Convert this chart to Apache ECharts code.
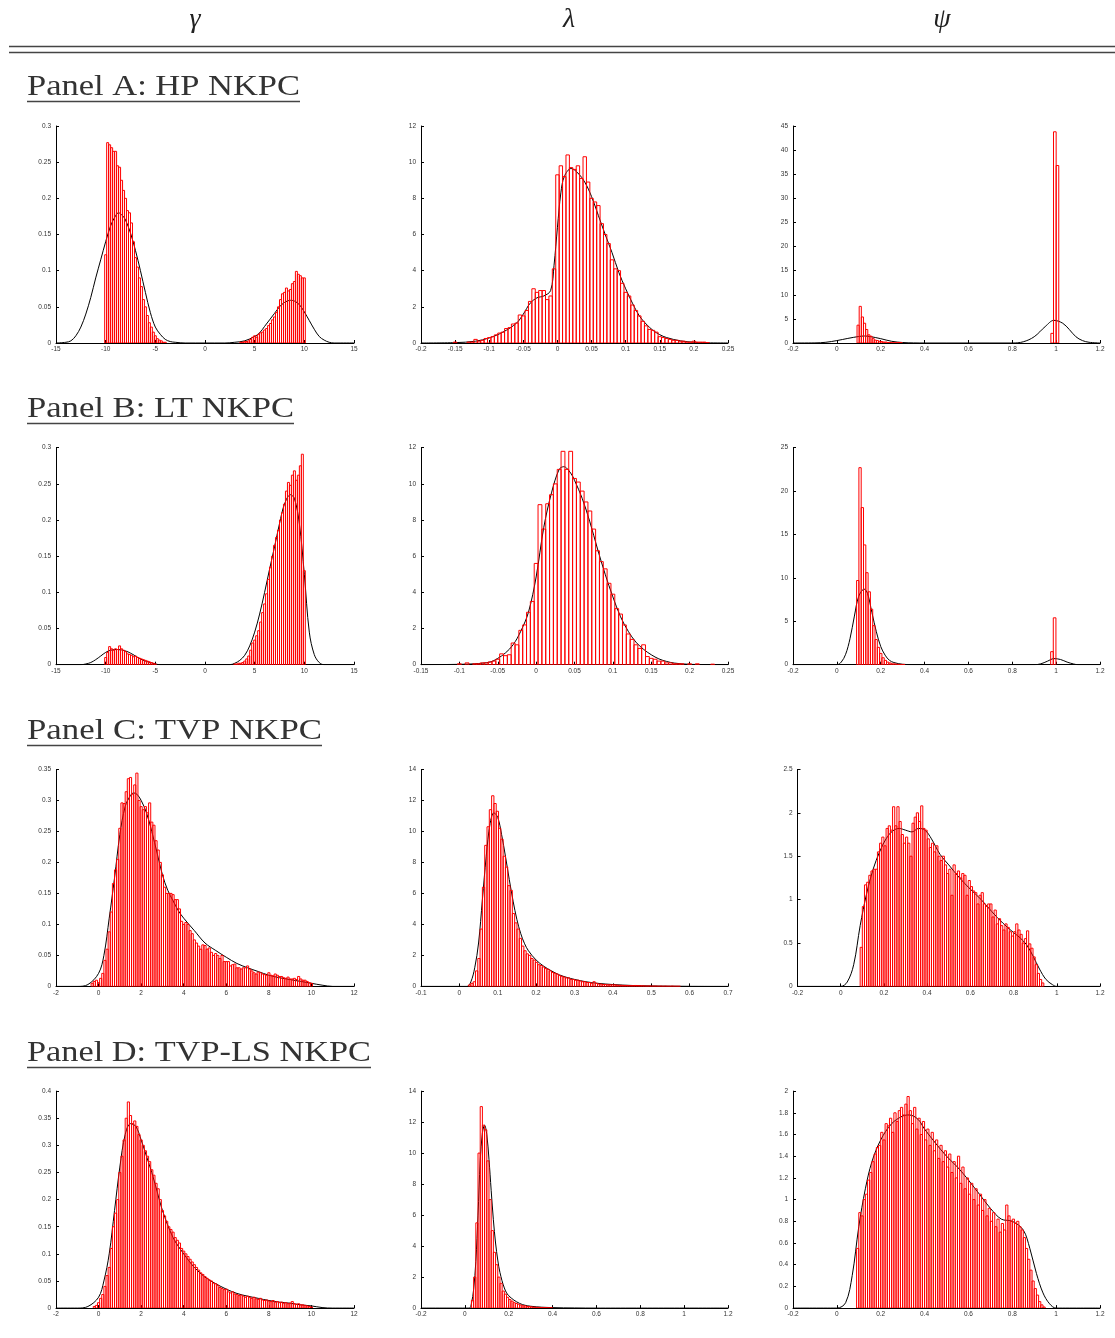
<!DOCTYPE html>
<html>
<head>
<meta charset="utf-8">
<script src="https://cdn.jsdelivr.net/npm/echarts@6/dist/echarts.min.js"></script>
<style>
html, body { margin: 0; padding: 0; background: #fff; }
#chart { width: 1115px; height: 1338px; }
</style>
</head>
<body>
<div id="chart"></div>
<script>
// column heads and panel names
const colHeads = ['γ', 'λ', 'ψ'];
const panelTitles = ['Panel A: HP NKPC', 'Panel B: LT NKPC', 'Panel C: TVP NKPC', 'Panel D: TVP-LS NKPC'];

// ---- histogram heights (density), each array = consecutive bins ----
// Panel A
const gammaA_1 = [0.122,0.277,0.274,0.270,0.265,0.265,0.245,0.243,0.225,0.211,0.200,0.183,0.180,0.166,0.140,0.118,0.105,0.090,0.078,0.060,0.050,0.038,0.028,0.022,0.015,0.010,0.006,0.004,0.003,0.001,0.001];
const gammaA_2 = [0.001,0.001,0.002,0.002,0.003,0.005,0.008,0.010,0.008,0.012,0.014,0.015,0.018,0.020,0.024,0.027,0.032,0.036,0.042,0.050,0.060,0.068,0.070,0.076,0.072,0.074,0.082,0.085,0.099,0.095,0.093,0.090,0.090];
const lambdaA = [0.05,0,0,0,0.05,0.05,0.2,0.1,0.15,0.25,
  0.3,0.35,0.45,0.55,0.6,0.8,0.85,1.05,1.1,1.55,
  1.5,1.8,2.3,3.0,2.8,2.9,2.9,2.4,2.6,4.1,
  9.3,9.8,9.2,10.4,9.7,9.6,9.8,9.1,10.3,8.9,
  8.0,7.8,7.6,6.6,6.0,5.5,4.6,4.1,4.0,3.3,
  2.8,2.6,2.1,1.8,1.5,1.2,0.95,0.75,0.7,0.6,
  0.35,0.3,0.25,0.2,0.15,0.15,0.1,0.1,0.05,0.05,
  0.1,0.05,0.05,0.05,0.02];
const psiA_1 = [3.7,7.6,5.4,4.1,2.8,1.7,1.4,0.9,0.6,0.5,0.35,0.3,0.2,0.2,0.1,0.1,0.05,0.05,0.05,0.1,0.05];
const psiA_2 = [2.0,43.8,36.8];

// Panel B
const gammaB_1 = [0.010,0.017,0.025,0.022,0.020,0.022,0.021,0.026,0.022,0.020,0.018,0.015,0.014,0.013,0.011,0.012,0.010,0.009,0.008,0.007,0.006,0.005,0.004,0.003,0.002,0.001];
const gammaB_2 = [0.001,0.001,0.002,0.002,0.003,0.005,0.008,0.012,0.020,0.030,
  0.034,0.040,0.047,0.059,0.072,0.084,0.098,0.118,0.135,0.150,
  0.165,0.176,0.186,0.200,0.210,0.222,0.240,0.252,0.248,0.262,
  0.268,0.255,0.262,0.275,0.291,0.130];
const lambdaB = [0.05,0,0.1,0,0.05,0.05,0.1,0.1,0.15,0.2,
  0.3,0.6,0.5,0.55,1.2,1.1,1.9,2.2,2.9,3.5,
  5.6,8.85,7.5,8.9,9.4,10.0,10.8,11.8,10.8,11.8,
  10.3,10.1,9.6,9.0,8.5,7.5,6.3,5.7,5.3,4.5,
  3.9,3.1,2.8,2.2,1.7,1.4,1.1,0.9,1.1,0.45,
  0.35,0.3,0.2,0.2,0.1,0.1,0.05,0.05,0.05,0,
  0.05,0,0.05,0,0,0,0.03];
const psiB_1 = [9.7,22.7,18.1,13.8,10.6,8.4,6.4,4.5,2.9,2.0,1.3,0.8,0.5,0.3,0.2,0.1,0.1,0.05,0.03,0.03,0.03];
const psiB_2 = [1.5,5.4];

// Panel C
const gammaC = [0.005,0.008,0.010,0.006,0.013,0.021,0.042,0.060,0.088,0.120,
  0.166,0.188,0.205,0.255,0.296,0.295,0.314,0.335,0.337,0.310,
  0.325,0.344,0.300,0.290,0.285,0.290,0.280,0.296,0.265,0.260,
  0.235,0.220,0.200,0.180,0.160,0.150,0.150,0.150,0.148,0.140,
  0.140,0.125,0.105,0.100,0.103,0.100,0.090,0.085,0.075,0.070,
  0.065,0.060,0.067,0.066,0.060,0.062,0.055,0.050,0.053,0.050,
  0.045,0.050,0.040,0.040,0.040,0.033,0.035,0.036,0.030,0.030,
  0.028,0.030,0.030,0.033,0.028,0.025,0.022,0.020,0.023,0.022,
  0.020,0.019,0.018,0.022,0.018,0.017,0.020,0.018,0.016,0.016,
  0.014,0.013,0.015,0.012,0.012,0.013,0.011,0.016,0.012,0.010,
  0.010,0.008,0.006,0.005];
const lambdaC = [0.1,0.2,0.3,1.0,1.8,3.7,6.4,9.1,10.3,11.4,
  12.3,11.8,11.3,10.2,9.5,8.4,7.7,6.5,6.2,4.7,
  4.1,3.7,3.1,2.6,2.3,2.1,2.0,1.8,1.7,1.55,
  1.4,1.35,1.25,1.15,1.1,1.0,0.9,0.85,0.8,0.7,
  0.65,0.6,0.55,0.55,0.45,0.45,0.4,0.4,0.35,0.3,
  0.3,0.25,0.25,0.2,0.3,0.2,0.15,0.15,0.12,0.12,
  0.1,0.1,0.1,0.1,0.08,0.07,0.07,0.06,0.06,0.05,
  0.05,0.05,0.06,0.05,0.04,0.04,0.03,0.02,0.03,0.02,
  0.02,0.02,0.01,0.02,0.01,0.02,0.01,0.01,0.02,0.01,
  0.01,0.01];
const psiC = [0.45,0.92,1.17,1.20,1.28,1.33,1.35,1.35,1.55,1.65,
  1.72,1.62,1.82,1.85,1.80,2.07,1.85,2.07,1.90,1.75,
  1.65,1.72,1.65,1.50,1.88,1.95,2.00,1.90,2.08,1.82,
  1.80,1.70,1.60,1.65,1.55,1.62,1.50,1.45,1.50,1.40,
  1.30,1.35,1.05,1.40,1.30,1.33,1.25,1.30,1.28,1.05,
  1.22,1.15,1.10,1.08,0.95,1.05,1.08,0.95,0.92,0.95,
  0.95,0.80,0.88,0.72,0.78,0.70,0.65,0.72,0.68,0.63,
  0.58,0.63,0.72,0.65,0.60,0.50,0.55,0.64,0.49,0.44,
  0.34,0.25,0.15,0.08,0.04];

// Panel D
const gammaD = [0.003,0.005,0.010,0.018,0.025,0.040,0.060,0.075,0.110,0.150,
  0.175,0.200,0.250,0.280,0.310,0.350,0.380,0.355,0.340,0.345,
  0.335,0.320,0.310,0.300,0.290,0.280,0.270,0.255,0.245,0.230,
  0.220,0.200,0.180,0.170,0.160,0.150,0.145,0.140,0.130,0.125,
  0.120,0.110,0.105,0.100,0.095,0.090,0.085,0.080,0.075,0.070,
  0.065,0.062,0.058,0.055,0.052,0.050,0.046,0.045,0.042,0.038,
  0.036,0.034,0.035,0.030,0.028,0.030,0.026,0.025,0.023,0.024,
  0.022,0.020,0.022,0.020,0.018,0.020,0.017,0.016,0.018,0.015,
  0.014,0.015,0.013,0.012,0.014,0.011,0.012,0.010,0.011,0.009,
  0.010,0.008,0.009,0.012,0.008,0.007,0.008,0.006,0.006,0.005,
  0.004,0.003,0.002];
const lambdaD = [0.5,2.0,5.5,10.0,13.0,11.8,11.5,9.5,7.0,5.0,
  3.6,2.8,2.0,1.6,1.1,0.9,0.7,0.55,0.45,0.35,
  0.3,0.25,0.2,0.15,0.15,0.1,0.1,0.08,0.06,0.05,
  0.05,0.04,0.03,0.03,0.02,0.02,0.02];
const psiD = [0.55,0.88,0.85,1.00,1.05,1.18,1.25,1.35,1.42,1.48,
  1.50,1.62,1.55,1.70,1.68,1.75,1.62,1.80,1.72,1.82,
  1.85,1.78,1.88,1.95,1.82,1.70,1.85,1.65,1.75,1.60,
  1.72,1.55,1.65,1.50,1.62,1.45,1.55,1.38,1.50,1.35,
  1.45,1.30,1.42,1.25,1.35,1.20,1.40,1.15,1.30,1.10,
  1.20,1.05,1.15,1.00,1.10,0.95,1.05,0.90,1.00,0.85,
  0.92,0.80,0.88,0.75,0.82,0.70,0.78,0.72,0.95,0.85,
  0.80,0.82,0.78,0.80,0.75,0.72,0.65,0.55,0.45,0.35,
  0.25,0.18,0.12,0.06,0.03,0.01];

// ---- smoothed density curves [x, density] ----
const gammaA_kde = [[-15,0],[-14,0.001],[-13.5,0.003],[-13,0.01],[-12.5,0.022],[-12,0.04],[-11.5,0.063],[-11,0.09],[-10.5,0.115],[-10,0.14],[-9.5,0.162],[-9,0.176],[-8.7,0.18],[-8.3,0.176],[-8,0.17],[-7.5,0.152],[-7,0.128],[-6.5,0.1],[-6,0.07],[-5.5,0.042],[-5,0.022],[-4.5,0.012],[-4,0.005],[-3.5,0.002],[-3,0.001],[-2,0],[2,0],[3,0.001],[4,0.003],[5,0.009],[5.5,0.014],[6,0.023],[6.5,0.032],[7,0.041],[7.5,0.05],[8,0.056],[8.6,0.059],[9,0.058],[9.5,0.053],[10,0.043],[10.5,0.031],[11,0.019],[11.5,0.009],[12,0.004],[12.5,0.001],[13,0],[15,0]];
const lambdaA_kde = [[-0.2,0],[-0.15,0.02],[-0.12,0.1],[-0.1,0.28],[-0.08,0.6],[-0.06,1.1],[-0.05,1.6],[-0.04,2.2],[-0.03,2.5],[-0.02,2.6],[-0.01,2.9],[-0.005,4.3],[0,6.4],[0.005,8.3],[0.01,9.2],[0.02,9.65],[0.03,9.4],[0.04,8.9],[0.05,8.1],[0.06,7.05],[0.07,6.0],[0.08,5.0],[0.09,3.9],[0.1,3.0],[0.11,2.2],[0.12,1.5],[0.13,1.05],[0.14,0.7],[0.15,0.46],[0.16,0.3],[0.18,0.12],[0.2,0.04],[0.22,0.01],[0.25,0]];
const psiA_kde = [[-0.2,0],[-0.1,0.02],[-0.05,0.15],[0,0.5],[0.05,0.95],[0.1,1.35],[0.125,1.45],[0.15,1.35],[0.2,0.9],[0.25,0.35],[0.3,0.1],[0.35,0.02],[0.4,0],[0.8,0],[0.85,0.25],[0.9,1.3],[0.95,3.4],[0.99,4.7],[1.03,4.1],[1.06,2.8],[1.09,1.3],[1.12,0.5],[1.15,0.15],[1.2,0]];
const gammaB_kde = [[-15,0],[-12.5,0],[-12,0.001],[-11.5,0.003],[-11,0.007],[-10.5,0.012],[-10,0.017],[-9.5,0.02],[-8.8,0.021],[-8,0.019],[-7.5,0.016],[-7,0.012],[-6.5,0.008],[-6,0.005],[-5.5,0.003],[-5,0.001],[-4.5,0],[2.5,0],[3,0.002],[3.5,0.006],[4,0.013],[4.5,0.026],[5,0.045],[5.5,0.07],[6,0.1],[6.5,0.132],[7,0.163],[7.5,0.195],[8,0.222],[8.6,0.235],[9,0.23],[9.5,0.195],[10,0.125],[10.5,0.045],[11,0.014],[11.5,0.003],[12,0],[15,0]];
const lambdaB_kde = [[-0.15,0],[-0.1,0.02],[-0.08,0.05],[-0.06,0.15],[-0.05,0.35],[-0.04,0.65],[-0.03,1.1],[-0.02,1.85],[-0.01,2.9],[0,4.85],[0.01,7.6],[0.02,9.5],[0.03,10.8],[0.036,10.95],[0.045,10.6],[0.05,10.2],[0.06,9.2],[0.07,7.9],[0.08,6.4],[0.09,5.0],[0.1,3.75],[0.11,2.65],[0.12,1.85],[0.13,1.25],[0.14,0.85],[0.15,0.55],[0.16,0.32],[0.17,0.18],[0.18,0.09],[0.2,0.02],[0.25,0]];
const psiB_kde = [[-0.2,0],[0,0],[0.02,0.3],[0.04,1.2],[0.06,3.0],[0.08,5.6],[0.1,7.9],[0.125,8.7],[0.14,8.2],[0.16,6.0],[0.18,3.8],[0.2,2.1],[0.22,1.1],[0.24,0.5],[0.26,0.25],[0.3,0.05],[0.35,0],[0.9,0],[0.93,0.1],[0.96,0.4],[0.99,0.7],[1.02,0.6],[1.05,0.3],[1.08,0.08],[1.1,0],[1.2,0]];
const gammaC_kde = [[-2,0],[-1,0],[-0.5,0.003],[0,0.021],[0.25,0.05],[0.5,0.11],[0.75,0.175],[1.0,0.245],[1.25,0.29],[1.5,0.308],[1.65,0.312],[1.8,0.31],[2.0,0.3],[2.25,0.28],[2.5,0.25],[2.75,0.215],[3.0,0.18],[3.25,0.155],[3.5,0.138],[3.75,0.122],[4.0,0.11],[4.5,0.09],[5.0,0.07],[5.5,0.058],[6.0,0.047],[6.5,0.037],[7.0,0.03],[7.5,0.024],[8.0,0.018],[8.5,0.014],[9.0,0.011],[9.5,0.008],[10,0.005],[10.5,0.002],[11,0],[12,0]];
const lambdaC_kde = [[-0.1,0],[0.02,0],[0.03,0.3],[0.04,1.2],[0.05,2.8],[0.06,5.6],[0.07,8.4],[0.08,10.5],[0.09,11.2],[0.1,10.9],[0.11,9.8],[0.12,8.4],[0.13,6.9],[0.14,5.5],[0.15,4.3],[0.16,3.4],[0.17,2.75],[0.18,2.3],[0.2,1.7],[0.22,1.3],[0.24,1.0],[0.26,0.75],[0.28,0.58],[0.3,0.45],[0.33,0.3],[0.36,0.2],[0.4,0.12],[0.45,0.06],[0.5,0.03],[0.55,0.015],[0.6,0.005],[0.7,0]];
const psiC_kde = [[-0.2,0],[0,0],[0.03,0.05],[0.06,0.25],[0.09,0.7],[0.12,1.07],[0.15,1.35],[0.18,1.55],[0.21,1.7],[0.24,1.79],[0.27,1.82],[0.3,1.8],[0.33,1.78],[0.36,1.82],[0.39,1.8],[0.42,1.7],[0.46,1.52],[0.5,1.4],[0.55,1.25],[0.6,1.12],[0.65,1.0],[0.7,0.86],[0.75,0.73],[0.8,0.62],[0.83,0.56],[0.86,0.48],[0.89,0.35],[0.92,0.2],[0.95,0.08],[0.98,0.02],[1.0,0],[1.2,0]];
const gammaD_kde = [[-2,0],[-1,0],[-0.5,0.003],[0,0.02],[0.25,0.05],[0.5,0.1],[0.75,0.18],[1.0,0.26],[1.25,0.32],[1.5,0.34],[1.75,0.335],[2.0,0.31],[2.25,0.28],[2.5,0.25],[2.75,0.215],[3.0,0.18],[3.5,0.13],[4.0,0.1],[4.5,0.075],[5.0,0.057],[5.5,0.045],[6.0,0.035],[6.5,0.027],[7.0,0.022],[7.5,0.018],[8.0,0.014],[8.5,0.011],[9.0,0.009],[9.5,0.006],[10.0,0.004],[10.5,0.001],[11,0],[12,0]];
const lambdaD_kde = [[-0.2,0],[0.02,0],[0.03,0.3],[0.04,1.2],[0.05,3.0],[0.06,6.0],[0.07,9.5],[0.08,11.3],[0.09,11.8],[0.1,11.2],[0.11,9.6],[0.12,7.6],[0.13,5.7],[0.14,4.2],[0.15,3.1],[0.16,2.3],[0.18,1.3],[0.2,0.8],[0.25,0.3],[0.3,0.12],[0.4,0.03],[0.5,0.01],[0.6,0],[1.2,0]];
const psiD_kde = [[-0.2,0],[0,0],[0.04,0.05],[0.07,0.3],[0.1,0.75],[0.13,1.1],[0.16,1.35],[0.2,1.55],[0.25,1.7],[0.3,1.77],[0.33,1.78],[0.37,1.74],[0.4,1.65],[0.45,1.52],[0.5,1.4],[0.55,1.3],[0.6,1.18],[0.65,1.05],[0.7,0.92],[0.75,0.82],[0.8,0.8],[0.85,0.72],[0.88,0.55],[0.91,0.32],[0.94,0.14],[0.97,0.04],[1.0,0],[1.2,0]];

// panel table: hist segments are [first bin left edge, bin width, heights]
// x: [min, max, interval], y: [max, interval]
const panels = [
  { hist: [[-10.1, 0.2, gammaA_1], [3.5, 0.2, gammaA_2]], kde: gammaA_kde, x: [-15, 15, 5], y: [0.3, 0.05] },
  { hist: [[-0.1525, 0.005, lambdaA]], kde: lambdaA_kde, x: [-0.2, 0.25, 0.05], y: [12, 2] },
  { hist: [[0.092, 0.0098, psiA_1], [0.976, 0.012, psiA_2]], kde: psiA_kde, x: [-0.2, 1.2, 0.2], y: [45, 5] },
  { hist: [[-10.1, 0.2, gammaB_1], [2.9, 0.2, gammaB_2]], kde: gammaB_kde, x: [-15, 15, 5], y: [0.3, 0.05] },
  { hist: [[-0.1025, 0.005, lambdaB]], kde: lambdaB_kde, x: [-0.15, 0.25, 0.05], y: [12, 2] },
  { hist: [[0.09, 0.0105, psiB_1], [0.975, 0.012, psiB_2]], kde: psiB_kde, x: [-0.2, 1.2, 0.2], y: [25, 5] },
  { hist: [[-0.35, 0.1, gammaC]], kde: gammaC_kde, x: [-2, 12, 2], y: [0.35, 0.05] },
  { hist: [[0.024, 0.006, lambdaC]], kde: lambdaC_kde, x: [-0.1, 0.7, 0.1], y: [14, 2] },
  { hist: [[0.09, 0.01, psiC]], kde: psiC_kde, x: [-0.2, 1.2, 0.2], y: [2.5, 0.5] },
  { hist: [[-0.25, 0.1, gammaD]], kde: gammaD_kde, x: [-2, 12, 2], y: [0.4, 0.05] },
  { hist: [[0.03, 0.01, lambdaD]], kde: lambdaD_kde, x: [-0.2, 1.2, 0.2], y: [14, 2] },
  { hist: [[0.09, 0.01, psiD]], kde: psiD_kde, x: [-0.2, 1.2, 0.2], y: [2, 0.2] }
];

// layout
const colLeft = [56, 421, 793];
const colRight = [354, 728, 1100];
const rowTop0 = 126, rowStep = 321.7, plotH = 217;
const titleY0 = 87, titleStep = 322;
const underlineW = [273, 267, 295, 344];

const chart = echarts.init(document.getElementById('chart'), null, { renderer: 'canvas' });

const labelStyle = { fontSize: 6.5, color: '#333', fontFamily: 'Liberation Sans, Arial, sans-serif' };

function renderBar(params, api) {
  const h = api.value(2);
  if (!(h > 0)) return null;
  const p0 = api.coord([api.value(0), h]);
  const p1 = api.coord([api.value(1), 0]);
  return {
    type: 'rect',
    shape: { x: p0[0], y: p0[1], width: p1[0] - p0[0], height: p1[1] - p0[1] },
    style: { fill: 'none', stroke: '#ff0000', lineWidth: 1 }
  };
}

const grids = [], xAxes = [], yAxes = [], series = [];
panels.forEach((p, i) => {
  const row = Math.floor(i / 3), col = i % 3;
  let left = colLeft[col];
  if (i === 8) left = 797.5; // wider y labels in panel C psi
  grids.push({ left: left, top: rowTop0 + row * rowStep, width: colRight[col] - left, height: plotH });
  xAxes.push({
    gridIndex: i, type: 'value', min: p.x[0], max: p.x[1], interval: p.x[2],
    axisLine: { show: true, onZero: false, lineStyle: { color: '#000', width: 1 } },
    axisTick: { show: true, inside: true, length: 3, lineStyle: { color: '#000' } },
    axisLabel: Object.assign({ margin: 3 }, labelStyle),
    splitLine: { show: false }
  });
  yAxes.push({
    gridIndex: i, type: 'value', min: 0, max: p.y[0], interval: p.y[1],
    axisLine: { show: true, onZero: false, lineStyle: { color: '#000', width: 1 } },
    axisTick: { show: true, inside: true, length: 3, lineStyle: { color: '#000' } },
    axisLabel: Object.assign({ margin: 5 }, labelStyle),
    splitLine: { show: false }
  });
  series.push({
    type: 'line', xAxisIndex: i, yAxisIndex: i, data: p.kde,
    smooth: 0.35, symbol: 'none', silent: true, z: 2,
    lineStyle: { color: '#000', width: 1 }
  });
  const bars = [];
  p.hist.forEach(([from, w, vals]) => {
    vals.forEach((v, k) => bars.push([from + k * w, from + (k + 1) * w, v]));
  });
  series.push({
    type: 'custom', xAxisIndex: i, yAxisIndex: i, data: bars,
    encode: { x: [0, 1], y: 2 }, renderItem: renderBar, clip: true, silent: true, z: 3
  });
});

// measure serif title width so the text spans the original underline
const ctx = document.createElement('canvas').getContext('2d');
const titleFont = '29px "Liberation Serif", "DejaVu Serif", serif';
ctx.font = titleFont;

const graphic = [];
colHeads.forEach((t, k) => {
  graphic.push({
    type: 'text', x: [195, 569, 942][k], y: 20,
    style: { text: t, font: 'italic 28px "Liberation Serif", "DejaVu Serif", serif', fill: '#222', align: 'center', verticalAlign: 'middle' }
  });
});
graphic.push({ type: 'line', shape: { x1: 9, y1: 46.5, x2: 1115, y2: 46.5 }, style: { stroke: '#444', lineWidth: 1.3 } });
graphic.push({ type: 'line', shape: { x1: 9, y1: 52.5, x2: 1115, y2: 52.5 }, style: { stroke: '#444', lineWidth: 1.3 } });
panelTitles.forEach((t, r) => {
  const w = ctx.measureText(t).width;
  graphic.push({
    type: 'text', x: 27, y: titleY0 + r * titleStep, scaleX: underlineW[r] / w,
    style: { text: t, font: titleFont, fill: '#333', align: 'left', verticalAlign: 'middle' }
  });
  const uy = titleY0 + 14.5 + r * titleStep;
  graphic.push({ type: 'line', shape: { x1: 27, y1: uy, x2: 27 + underlineW[r], y2: uy }, style: { stroke: '#444', lineWidth: 1.5 } });
});

chart.setOption({
  animation: false,
  backgroundColor: '#fff',
  grid: grids,
  xAxis: xAxes,
  yAxis: yAxes,
  series: series,
  graphic: graphic
});
</script>
</body>
</html>
